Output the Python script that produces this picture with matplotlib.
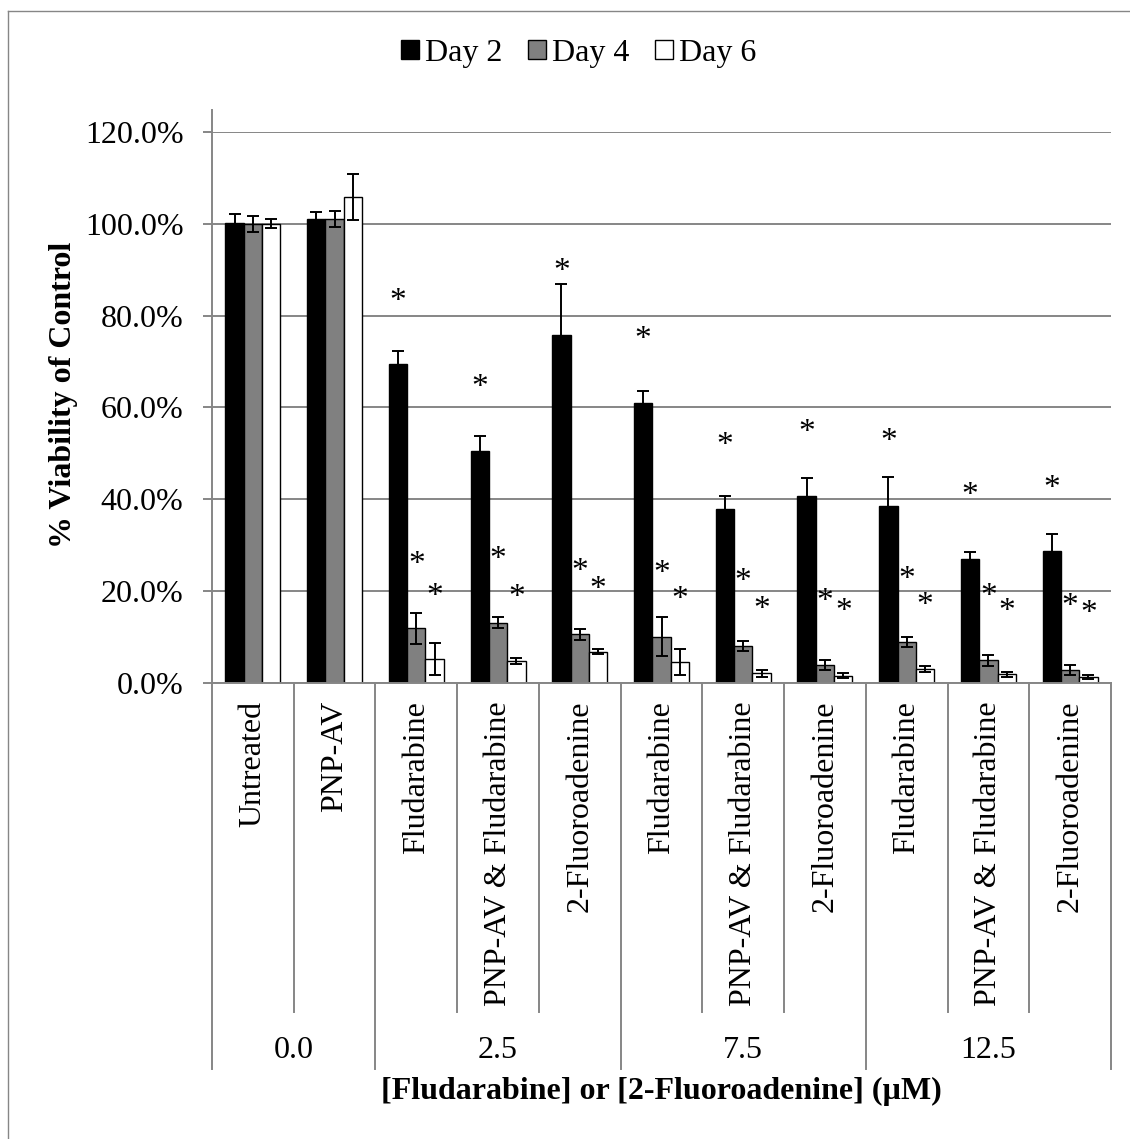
import matplotlib
matplotlib.use("Agg")
import matplotlib.pyplot as plt
import numpy as np
from matplotlib.patches import Patch
from matplotlib.lines import Line2D
import matplotlib.transforms as mtransforms

plt.rcParams['font.family'] = ['Liberation Serif', 'DejaVu Serif']

categories = ["Untreated", "PNP-AV", "Fludarabine", "PNP-AV & Fludarabine", "2-Fluoroadenine",
              "Fludarabine", "PNP-AV & Fludarabine", "2-Fluoroadenine",
              "Fludarabine", "PNP-AV & Fludarabine", "2-Fluoroadenine"]
groups = ["0.0", "2.5", "7.5", "12.5"]
group_sizes = [2, 3, 3, 3]
series = ["Day 2", "Day 4", "Day 6"]

day2 = [100.1, 101.1, 69.5, 50.6, 75.8, 60.9, 37.9, 40.8, 38.6, 27.1, 28.8]
day2_err = [2.0, 1.5, 2.7, 3.3, 11.0, 2.7, 2.9, 3.8, 6.3, 1.5, 3.6]
day4 = [100.0, 101.0, 11.9, 13.1, 10.6, 10.1, 8.1, 3.9, 8.9, 5.0, 2.8]
day4_err = [1.7, 1.7, 3.3, 1.2, 1.2, 4.2, 1.1, 1.1, 1.1, 1.2, 1.1]
day6 = [100.0, 105.9, 5.2, 4.8, 6.8, 4.6, 2.1, 1.6, 3.1, 1.9, 1.3]
day6_err = [1.0, 5.0, 3.5, 0.6, 0.5, 2.8, 0.7, 0.6, 0.6, 0.5, 0.5]

# asterisk (significance marker) heights, in % units, None = no marker
star2 = [None, None, 84.5, 65.8, 91.0, 76.2, 53.1, 56.0, 54.0, 42.4, 43.8]
star4 = [None, None, 27.2, 28.4, 25.7, 25.3, 23.5, 19.3, 24.0, 20.4, 18.2]
star6 = [None, None, 20.3, 20.0, 21.8, 19.7, 17.4, 17.0, 18.4, 17.1, 16.6]

yticks = [0, 20, 40, 60, 80, 100, 120]
ytick_labels = ["0.0%", "20.0%", "40.0%", "60.0%", "80.0%", "100.0%", "120.0%"]

W, H = 1130, 1139
fig = plt.figure(figsize=(W / 100, H / 100), dpi=100)
ax = fig.add_axes([212 / W, 1 - 683 / H, (1111 - 212) / W, 551 / H])

grid_c = "#868686"
fs = 23
x = np.arange(len(categories))
bw = 0.224
colors = ["black", "#808080", "white"]
vals = [day2, day4, day6]
errs = [day2_err, day4_err, day6_err]
stars = [star2, star4, star6]

for i in range(3):
    xi = x + (i - 1) * bw
    ax.bar(xi, vals[i], width=bw, color=colors[i], edgecolor="black", linewidth=1.0, zorder=3)
    ax.errorbar(xi, vals[i], yerr=errs[i], fmt="none", ecolor="black", elinewidth=1.4,
                capsize=4, capthick=1.4, zorder=4)
    for xx, s in zip(xi, stars[i]):
        if s is not None:
            ax.annotate("*", xy=(xx, s), xytext=(0, -11), textcoords="offset points",
                        ha="center", va="baseline", fontsize=24, zorder=5)

ax.set_xlim(-0.5, len(categories) - 0.5)
ax.set_ylim(0, 120)
ax.set_yticks(yticks)
ax.set_yticklabels(ytick_labels, fontsize=fs)
ax.set_xticks([])
ax.yaxis.grid(True, color=grid_c, linewidth=1.4, zorder=0)
ax.set_axisbelow(True)
for side in ["top", "right"]:
    ax.spines[side].set_visible(False)
ax.spines["left"].set_color(grid_c)
ax.spines["left"].set_linewidth(1.4)
ax.spines["bottom"].set_color(grid_c)
ax.spines["bottom"].set_linewidth(1.4)
ax.spines["bottom"].set_zorder(6)
ax.tick_params(axis="y", length=6.5, width=1.4, color=grid_c, pad=14)

# extension of y axis line above 120%
ax.add_line(Line2D([0, 0], [1.0, 1.04], transform=ax.transAxes, color=grid_c,
                   linewidth=1.4, clip_on=False))

trans = mtransforms.blended_transform_factory(ax.transData, ax.transAxes)
px = 1.0 / 551  # one pixel in axes fraction (vertical)
cat_bottom = -(1012 - 683) * px
grp_bottom = -(1069 - 683) * px

# category labels
for xi, lab in zip(x, categories):
    ax.text(xi, -(701 - 683) * px, lab, rotation=90, ha="center", va="top",
            fontsize=fs, transform=trans)

# separators
bounds = np.cumsum([0] + group_sizes) - 0.5
for b in np.arange(-0.5, len(categories), 1.0):
    bottom = grp_bottom if np.any(np.isclose(b, bounds)) else cat_bottom
    ax.add_line(Line2D([b, b], [0, bottom], transform=trans, color=grid_c,
                       linewidth=1.4, clip_on=False))

# group labels
for gi, g in enumerate(groups):
    c = (bounds[gi] + bounds[gi + 1]) / 2
    ax.text(c, -(1051 - 683) * px, g, ha="center", va="center", fontsize=fs, transform=trans)

# axis titles
ax.text(0.5, -(1091 - 683) * px, "[Fludarabine] or [2-Fluoroadenine] (µM)", ha="center",
        va="center", fontsize=fs, fontweight="bold", transform=ax.transAxes)
fig.text(64 / W, 1 - 395 / H, "% Viability of Control", rotation=90, ha="center", va="center",
         fontsize=fs, fontweight="bold")

# legend
handles = [Patch(facecolor=c, edgecolor="black", linewidth=1.0) for c in colors]
fig.legend(handles, series, loc="center", bbox_to_anchor=(579 / W, 1 - 53 / H), ncol=3,
           frameon=False, fontsize=fs, handlelength=0.55, handleheight=0.55,
           handletextpad=0.2, columnspacing=0.8, borderaxespad=0)

# chart area border (left and top visible)
fig.add_artist(Line2D([8 / W, 8 / W], [0, 1 - 11 / H], transform=fig.transFigure,
                      color=grid_c, linewidth=1.0))
fig.add_artist(Line2D([8 / W, 1], [1 - 11 / H, 1 - 11 / H], transform=fig.transFigure,
                      color=grid_c, linewidth=1.0))

fig.savefig("out.png", dpi=100)
